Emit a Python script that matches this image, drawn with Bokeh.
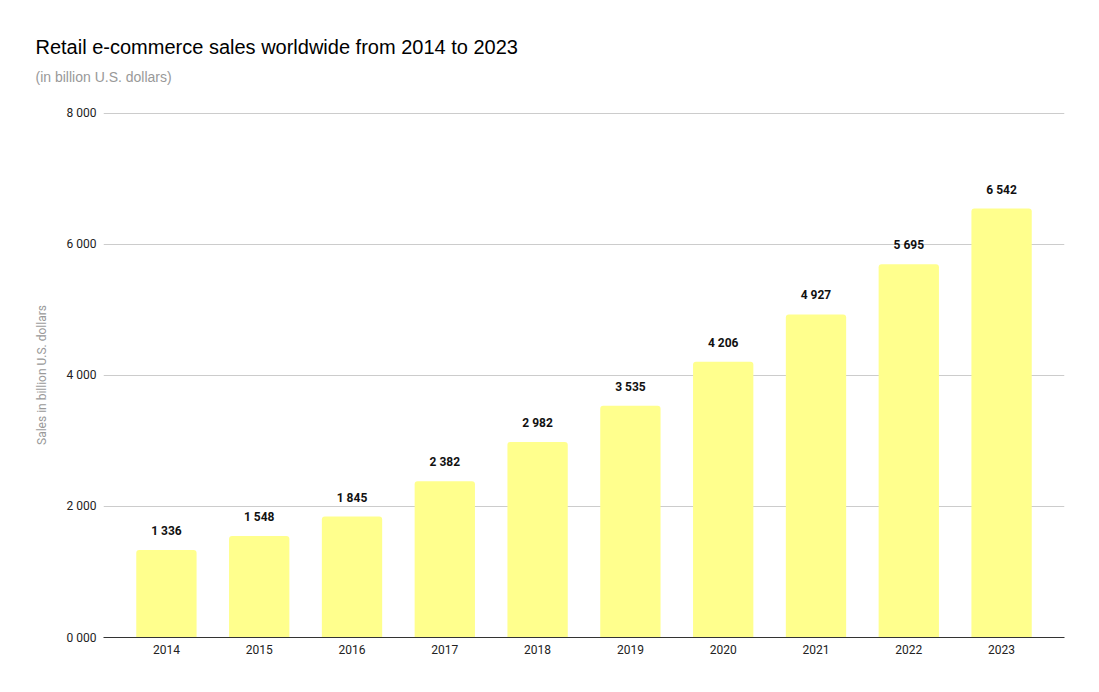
from bokeh.plotting import figure
from bokeh.models import FactorRange, Range1d, FixedTicker, Title, ColumnDataSource
from bokeh.core.properties import value
from bokeh.embed import file_html
from bokeh.resources import INLINE

years = ["2014", "2015", "2016", "2017", "2018", "2019", "2020", "2021", "2022", "2023"]
sales = [1336, 1548, 1845, 2382, 2982, 3535, 4206, 4927, 5695, 6542]
y_ticks = [0, 2000, 4000, 6000, 8000]
y_tick_labels = ["0 000", "2 000", "4 000", "6 000", "8 000"]
title_text = "Retail e-commerce sales worldwide from 2014 to 2023"
subtitle_text = "(in billion U.S. dollars)"
y_label = "Sales in billion U.S. dollars"

labels = [f"{v:,}".replace(",", " ") for v in sales]
src = ColumnDataSource(dict(x=years, y=sales, t=labels))

p = figure(width=1099, height=692, output_backend="svg", toolbar_location=None,
           x_range=FactorRange(factors=years, range_padding=0.178, range_padding_units="absolute"),
           y_range=Range1d(0, 8008),
           min_border_left=103, min_border_right=35, min_border_top=112, min_border_bottom=55)
p.outline_line_color = None
p.background_fill_color = "white"
p.border_fill_color = "white"

p.vbar(x="x", top="y", width=0.65, source=src, fill_color="#FFFF8D", line_color=None,
       border_radius=(3, 3, 0, 0))
p.text(x="x", y="y", text="t", source=src, y_offset=-12, text_align="center",
       text_baseline="bottom", text_font=value("Roboto"), text_font_style="bold",
       text_font_size="12px", text_color="#111111")

p.xgrid.grid_line_color = None
p.ygrid.grid_line_color = "#cccccc"
p.ygrid.ticker = FixedTicker(ticks=y_ticks)

p.yaxis.ticker = FixedTicker(ticks=y_ticks)
p.yaxis.major_label_overrides = {t: l for t, l in zip(y_ticks, y_tick_labels)}
p.yaxis.axis_line_color = None
p.yaxis.major_tick_line_color = None
p.yaxis.minor_tick_line_color = None
p.yaxis.major_label_standoff = 1
p.yaxis.major_label_text_font = "Roboto"
p.yaxis.major_label_text_font_size = "12px"
p.yaxis.major_label_text_color = "#222222"
p.yaxis.axis_label = y_label
p.yaxis.axis_label_text_font = "Roboto"
p.yaxis.axis_label_text_font_size = "12px"
p.yaxis.axis_label_text_font_style = "normal"
p.yaxis.axis_label_text_color = "#999999"
p.yaxis.axis_label_standoff = 15

p.xaxis.axis_line_color = "#333333"
p.xaxis.major_tick_line_color = None
p.xaxis.minor_tick_line_color = None
p.xaxis.major_label_standoff = 1
p.xaxis.major_label_text_font = "Roboto"
p.xaxis.major_label_text_font_size = "12px"
p.xaxis.major_label_text_color = "#222222"

p.add_layout(Title(text=" ", align="left", standoff=17, text_font_size="1px"), "above")
p.add_layout(Title(text=subtitle_text, align="left", offset=-68, standoff=15,
                   text_font="Liberation Sans", text_font_size="14px",
                   text_font_style="normal", text_color="#999999"), "above")
p.add_layout(Title(text=title_text, align="left", offset=-68, standoff=4,
                   text_font="Liberation Sans", text_font_size="20px",
                   text_font_style="normal", text_color="#000000"), "above")

open("out.html", "w").write(file_html(p, INLINE))
